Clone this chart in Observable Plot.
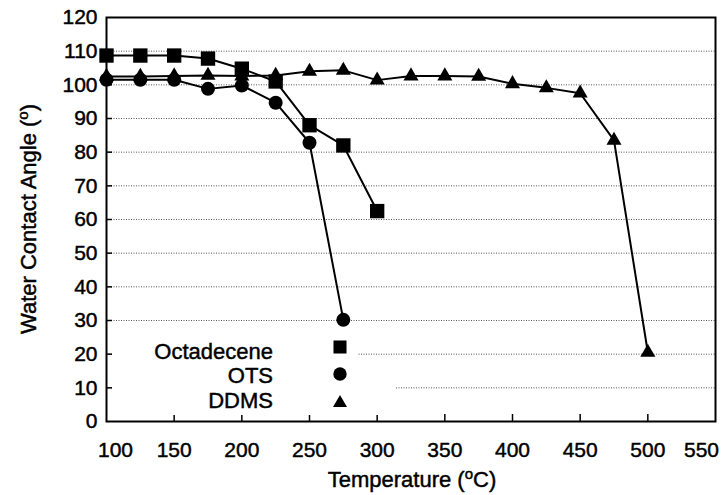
<!DOCTYPE html>
<html>
<head>
<meta charset="utf-8">
<script src="https://cdn.jsdelivr.net/npm/d3@7"></script>
<script src="https://cdn.jsdelivr.net/npm/@observablehq/plot@0.6"></script>
<style>
  body { margin: 0; background: white; }
  #chart { width: 724px; height: 495px; }
  #chart svg text { stroke: black; stroke-width: 0.45px; }
</style>
</head>
<body>
<div id="chart"></div>
<script>
// ---- data ----
const octaTemps = [100, 125, 150, 175, 200, 225, 250, 275, 300];
const octaAngles = [108.7, 108.7, 108.7, 107.8, 104.8, 101.0, 88.0, 82.0, 62.5];

const otsTemps = [100, 125, 150, 175, 200, 225, 250, 275];
const otsAngles = [101.5, 101.5, 101.5, 98.8, 99.8, 94.7, 82.8, 30.2];

const ddmsTemps = [100, 125, 150, 175, 200, 225, 250, 275, 300, 325, 350, 375, 400, 425, 450, 475, 500];
const ddmsAngles = [102.5, 102.5, 102.6, 102.8, 102.6, 102.8, 104.0, 104.3, 101.4, 102.6, 102.6, 102.5, 100.3, 99.1, 97.5, 83.5, 20.5];

const xTicks = [100, 150, 200, 250, 300, 350, 400, 450, 500, 550];
const yTicks = [0, 10, 20, 30, 40, 50, 60, 70, 80, 90, 100, 110, 120];
const gridVals = [10, 20, 30, 40, 50, 60, 70, 80, 90, 100, 110];
const seriesNames = ["Octadecene", "OTS", "DDMS"];

const toRows = (ts, vs) => ts.map((t, i) => ({t, v: vs[i]}));
const octa = toRows(octaTemps, octaAngles);
const ots = toRows(otsTemps, otsAngles);
const ddms = toRows(ddmsTemps, ddmsAngles);

const W = 724, H = 495, mL = 106, mR = 9, mT = 17, mB = 74;
const plotW = W - mL - mR, plotH = H - mT - mB;
const font = "'Liberation Sans', Arial, Helvetica, sans-serif";

const lineOpts = {x: "t", y: "v", stroke: "black", strokeWidth: 2};

const plot = Plot.plot({
  width: W, height: H,
  marginLeft: mL, marginRight: mR, marginTop: mT, marginBottom: mB,
  x: {domain: [100, 550]},
  y: {domain: [0, 120]},
  style: {fontFamily: font, fontSize: "21px", color: "black", background: "white", overflow: "visible"},
  marks: [
    Plot.ruleY(gridVals, {y: d => d, stroke: "#555", strokeWidth: 1, strokeDasharray: "1,1.5"}),
    Plot.tickX(xTicks.slice(1, -1), {x: d => d, insetTop: plotH - 7, stroke: "black", strokeWidth: 1.5}),
    Plot.tickY(yTicks.slice(1, -1), {y: d => d, insetRight: plotW - 6, stroke: "black", strokeWidth: 1.5}),
    Plot.axisY(yTicks, {tickSize: 0, tickPadding: 9, label: null, fill: "black", fontSize: 21}),
    Plot.axisX(xTicks.slice(1, -1), {tickSize: 0, tickPadding: 21, label: null, fill: "black", fontSize: 21}),
    Plot.axisX([xTicks[0]], {tickSize: 0, tickPadding: 21, label: null, fill: "black", fontSize: 21, dx: 9}),
    Plot.axisX([xTicks[xTicks.length - 1]], {tickSize: 0, tickPadding: 21, label: null, fill: "black", fontSize: 21, dx: -14}),
    Plot.frame({stroke: "black", strokeWidth: 2}),
    Plot.line(ddms, lineOpts),
    Plot.line(ots, lineOpts),
    Plot.line(octa, lineOpts),
    Plot.dot(ddms, {x: "t", y: "v", symbol: "triangle", r: 5.6, fill: "black"}),
    Plot.dot(ots, {x: "t", y: "v", symbol: "circle", r: 7, fill: "black"}),
    Plot.dot(octa, {x: "t", y: "v", symbol: "square", r: 8.1, fill: "black"})
  ]
});

const svg = d3.select(plot);

// Axis titles
const xt = svg.append("text")
  .attr("x", 412).attr("y", 487)
  .attr("text-anchor", "middle")
  .attr("font-family", font).attr("font-size", 22).attr("fill", "black");
xt.append("tspan").text("Temperature (");
xt.append("tspan").attr("dy", -8).attr("font-size", 15).text("o");
xt.append("tspan").attr("dy", 8).text("C)");

const yt = svg.append("text")
  .attr("transform", "translate(36,219) rotate(-90)")
  .attr("text-anchor", "middle")
  .attr("font-family", font).attr("font-size", 22).attr("fill", "black");
yt.append("tspan").text("Water Contact Angle (");
yt.append("tspan").attr("dy", -8).attr("font-size", 15).text("o");
yt.append("tspan").attr("dy", 8).text(")");

// Legend (white backing hides the gridlines behind it)
const lg = svg.append("g");
lg.append("rect").attr("x", 113).attr("y", 333).attr("width", 244).attr("height", 32).attr("fill", "white");
lg.append("rect").attr("x", 113).attr("y", 363).attr("width", 282).attr("height", 52).attr("fill", "white");
const legendSymbols = [d3.symbolSquare, d3.symbolCircle, d3.symbolTriangle];
const legendSizes = [170, 140, 85];
const legendTextY = [359, 383, 408];
const legendSymY = [347, 374, 403];
seriesNames.forEach((name, i) => {
  lg.append("text").attr("x", 273).attr("y", legendTextY[i])
    .attr("text-anchor", "end").attr("font-family", font).attr("font-size", 22).attr("fill", "black")
    .text(name);
  lg.append("path")
    .attr("transform", `translate(340,${legendSymY[i]})`)
    .attr("d", d3.symbol(legendSymbols[i], legendSizes[i])())
    .attr("fill", "black");
});

document.getElementById("chart").appendChild(plot);
</script>
</body>
</html>
